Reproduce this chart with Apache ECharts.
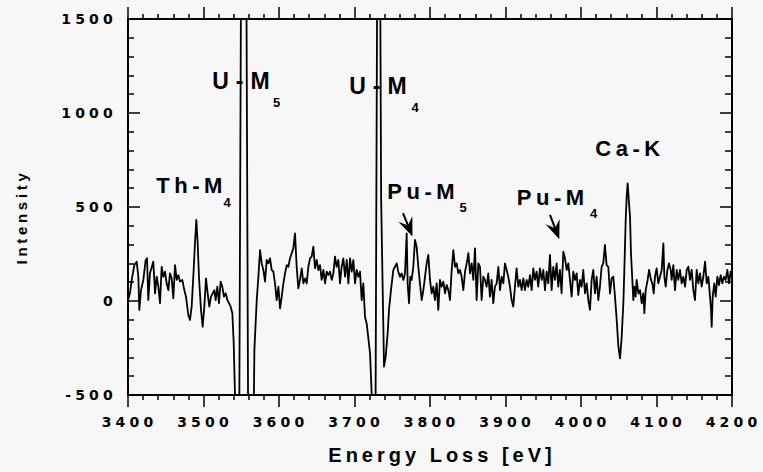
<!DOCTYPE html>
<html><head><meta charset="utf-8">
<script src="https://cdn.jsdelivr.net/npm/echarts@6.0.0/dist/echarts.min.js"></script>
<style>
html,body{margin:0;padding:0;background:#f7f7f7;}
#chart{width:763px;height:472px;}
#chart text[style*="14px"]{letter-spacing:4.2px;}
#chart text[style*="15px"]{letter-spacing:3.7px;}
#chart text[style*="20px"]{letter-spacing:4px;}
#chart text[style*="22px"]{letter-spacing:4.5px;}
#chart text[style*="23px"]{letter-spacing:7px;}
</style></head><body><div id="chart"></div>
<script>
// Energy axis (eV) and intensity readings
const energy = [
3400,3402.6,3404.9,3408.4,3411.5,3413.7,3415,3417.2,3420.3,3423.4,3425.2,3426.9,3429.1,3433.5,3435.8,3438,3440.2,3442.4,3444.6,3446.8,3449,3451.2,3453.4,3455.6,3457.8,3460,3462.3,3464.5,3466.7,3468.9,3471.9,3474.6,3476.8,3479.9,3482.1,3484.3,3486.5,3488.7,3490.5,3492.3,3494,3496.7,3498.9,3501.1,3503.3,3505.5,3507.7,3509.9,3512.1,3514.3,3516.1,3518.3,3520.5,3522.7,3524.9,3527.1,3529.4,3531.6,3533.8,3536,3538.2,3540,3541.7,
3543.5,3547,3550.5,3556,3559.5,3565.5,
3567.4,3570.5,3572.7,3574.9,3577.1,3579.3,3581.5,3583.7,3585.9,3588.1,3590.3,3592.5,3594.7,3596.9,3599.2,3601.4,3603.6,3605.8,3608,3610.2,3612.4,3614.6,3616.8,3619,3621.2,3623.4,3625.6,3627.8,3630.1,3632.3,3634.5,3636.7,3638.9,3641.1,3643.3,3645.5,3647.7,3649.9,3652.1,3654.3,3656.5,3658.8,3661,3663.2,3665.4,3667.6,3669.8,3672,3674.2,3676.4,3678.6,3680.8,3683,3685.2,3687.5,3689.7,3691.9,3694.1,3696.3,3698.5,3700.7,3702.9,3705.1,3707.3,3709.5,3711.7,3713.9,3716.1,3718.4,3720.6,
3722.7,3725,3727.5,3730.5,3733.5,3735.3,
3739.1,3741.3,3743.9,3745.7,3748.3,3751.4,3753.6,3755.8,3758,3760.3,3762.5,3764.7,3766.9,3769.1,3770.4,3772.2,3773.9,3775.7,3777.9,3780.1,3782.3,3784.5,3786.7,3789,3791.2,3793.4,3795.6,3797.8,3800,3802.2,3804.4,3806.6,3808.8,3811,3813.2,3815.4,3817.7,3819.9,3822.1,3824.3,3826.5,3828.7,3830.9,3833.1,3835.3,3837.5,3839.7,3841.9,3844.1,3846.4,3848.6,3850.8,3853,3855.2,3857.4,3859.6,3861.8,3864,3866.2,3868.4,3870.6,
3872.8,3875,3877.2,3879.4,3881.6,3883.8,3886,3888.3,3890.5,3892.7,3894.9,3897.1,3899.3,3901.5,3903.7,3905.9,3908.1,3910.3,3912.5,3914.7,3917,3919.2,3921.4,3923.6,3925.8,3928,3930.2,3932.4,3934.6,3936.8,3939,3941.2,3943.4,3945.6,3947.9,3950.1,3952.3,3954.5,3956.7,3958.9,3961.1,3963.3,3965.5,3967.7,3969.9,3972.1,3974.3,3976.6,3978.8,3981,3983.2,3985.4,3987.6,3989.8,3992,3994.2,3996.4,3998.6,4000.8,4003,4005.3,4007.5,4009.7,4011.9,4014.1,4016.3,4018.5,4020.7,4022.9,4025.1,4027.3,4029.5,4031.7,4033.9,4036.2,
4038.4,4040.6,4042.8,4045,4047.3,4049.5,4051.7,4053.9,4056.1,4057.4,4059.2,4060.5,4061.8,4063.6,4064.9,4066.2,4068,4069.3,4070.7,4072.4,4073.7,4076,4078.2,4080.4,4082.6,4083.9,4085.7,4088.3,4090.1,4092.7,4094.5,4096.3,4098,4100.2,4102.4,4104.6,4106.9,4109.1,4110.4,4112.2,4114.4,4116.6,4118.8,4120.1,4122.3,4124.5,4126.7,4128.9,4131.1,4133.3,4135.6,4137.8,4140,4142.2,4144.4,4146.6,4148.8,4151,4153.2,4155.4,4157.6,4159.8,4162,4164.3,4166.5,4168.7,4170.9,4172.2,4173.1,4174.4,4176.6,4178.4,4180.6,4182.8,4185,4187.2,4189.4,4191.6,4193.8,4196,4198.2,4200
];
const intensity = [
5,41,112,191,209,129,-48,58,112,218,227,5,147,209,41,129,76,-12,182,129,156,94,58,147,120,14,191,112,138,103,112,58,23,-74,-101,-30,129,307,431,307,129,-48,-137,-30,120,41,-30,23,41,58,5,76,-12,103,76,23,41,5,-12,-30,-65,-225,-500,
-1000,-1000,2500,2500,-1000,-1000,
-261,5,129,271,200,165,103,218,200,227,165,156,94,5,76,-39,23,94,147,191,182,227,254,280,360,182,67,112,174,94,120,94,182,227,236,289,174,218,165,191,112,165,94,156,138,156,112,147,236,182,218,94,182,227,129,218,94,227,156,218,94,165,129,156,5,94,-84,-119,-200,-280,
-491,-1000,-1000,2200,2200,537,
-349,-296,-172,-47,58,165,182,200,156,129,147,112,147,360,94,-12,129,112,182,325,289,182,94,5,58,129,200,245,112,41,76,5,94,-47,112,76,103,41,85,58,5,165,271,182,200,147,165,129,58,156,200,254,147,200,112,280,5,200,182,5,129,
112,76,147,23,112,-12,76,94,182,58,129,94,200,165,129,76,5,-30,76,174,76,112,58,120,58,112,76,138,58,174,112,156,76,174,112,165,58,156,94,245,58,182,112,200,76,165,41,262,227,165,200,112,23,156,112,147,32,112,76,165,41,94,5,-47,112,165,41,129,5,76,182,200,298,191,182,
40,120,129,23,-101,-243,-305,-190,-12,165,431,555,626,519,449,253,112,5,76,23,112,40,58,-12,40,-65,58,112,165,112,94,40,129,174,94,129,165,307,129,76,165,200,165,112,191,58,165,112,165,94,129,76,165,183,112,165,58,5,165,94,147,76,129,209,94,129,23,-47,-137,23,94,23,129,85,138,94,129,112,165,94,156,129
];
// Axis ranges / tick steps
const xRange = [3400, 4200], xStep = 100;
const yRange = [-500, 1500], yStep = 500;
// Peak labels (anchor in data units: [energy, intensity])
const peakLabels = [
  {text:'Th-M', sub:'4', at:[3437.5, 617], subAt:[3526.5, 524], big:false},
  {text:'U-M',  sub:'5', at:[3511.5, 1168], subAt:[3592, 1058], big:true},
  {text:'U-M',  sub:'4', at:[3693, 1144], subAt:[3775.5, 1031], big:true},
  {text:'Pu-M', sub:'5', at:[3743.5, 585], subAt:[3839, 500], big:false},
  {text:'Pu-M', sub:'4', at:[3915, 553], subAt:[4012, 463], big:false},
  {text:'Ca-K', sub:'',  at:[4019, 811], big:false}
];
// Arrows: tail and tip in data units
const arrows = [
  {tail:[3764.2, 468], tip:[3776.8, 343]},
  {tail:[3958.9, 458], tip:[3971.3, 328]}
];

const n = Math.min(energy.length, intensity.length);
const seriesData = [];
for (let i = 0; i < n; i++) seriesData.push([energy[i], intensity[i]]);

const chart = echarts.init(document.getElementById('chart'), null, {renderer:'svg'});
const black = '#000';
const tickFont = {color:black, fontFamily:'DejaVu Sans', fontWeight:'bold', fontSize:14, formatter: v => String(v)};
function xAx(pos, show){
  return {type:'value', position:pos, min:xRange[0], max:xRange[1], interval:xStep,
    axisLine:{show:true, onZero:false, lineStyle:{color:black, width:2}},
    axisTick:{show:true, inside:false, length:12, lineStyle:{color:black, width:1.5}},
    minorTick:{show:true, splitNumber:5, length:5, lineStyle:{color:black, width:1.5}},
    splitLine:{show:false}, minorSplitLine:{show:false},
    axisLabel: show ? Object.assign({margin:20, padding:[0,0,0,3]}, tickFont) : {show:false}};
}
function yAx(pos, show, minorLen){
  return {type:'value', position:pos, min:yRange[0], max:yRange[1], interval:yStep,
    axisLine:{show:true, onZero:false, lineStyle:{color:black, width:2}},
    axisTick:{show:true, inside:true, length:12, lineStyle:{color:black, width:1.5}},
    minorTick:{show:true, splitNumber:5, length:minorLen, lineStyle:{color:black, width:1.5}},
    splitLine:{show:false}, minorSplitLine:{show:false},
    axisLabel: show ? Object.assign({margin:11, padding:[7,0,0,0]}, tickFont) : {show:false}};
}
chart.setOption({
  animation:false,
  backgroundColor:'#f7f7f7',
  grid:{left:128, right:31, top:19, bottom:77, containLabel:false, outerBoundsMode:'none'},
  xAxis:[xAx('bottom', true), xAx('top', false)],
  yAxis:[yAx('left', true, 6), yAx('right', false, 7)],
  series:[{type:'line', xAxisIndex:0, yAxisIndex:0, data:seriesData, showSymbol:false, symbol:'none',
    clip:true, lineStyle:{color:black, width:1.8, join:'round'}}]
});

const P = p => chart.convertToPixel({xAxisIndex:0, yAxisIndex:0}, p);
const fam = 'Liberation Sans, Arial, Helvetica, sans-serif';
function txt(x, y, text, size, rot){
  return {type:'text', x:x, y:y, rotation:rot||0, z:100, silent:true,
    style:{text:text, fill:black, fontSize:size, fontWeight:'bold', fontFamily:fam,
      align:'left', verticalAlign:'middle', textAlign:'left', textVerticalAlign:'middle'}};
}
const g = [];
peakLabels.forEach(l => {
  const a = P(l.at);
  g.push(txt(a[0], a[1], l.text, l.big ? 23 : 22));
  if (l.sub) { const s = P(l.subAt); g.push(txt(s[0], s[1], l.sub, 13)); }
});
arrows.forEach(ar => {
  const t = P(ar.tail), h = P(ar.tip);
  const dx = h[0]-t[0], dy = h[1]-t[1], L = Math.hypot(dx, dy);
  const ux = dx/L, uy = dy/L, px = -uy, py = ux;
  const back = 19, notch = 12, half = 7.5;
  const b1 = [h[0]-ux*back+px*half, h[1]-uy*back+py*half];
  const b2 = [h[0]-ux*back-px*half, h[1]-uy*back-py*half];
  const nt = [h[0]-ux*notch, h[1]-uy*notch];
  g.push({type:'line', z:100, silent:true, shape:{x1:t[0], y1:t[1], x2:nt[0], y2:nt[1]}, style:{stroke:black, lineWidth:2}});
  g.push({type:'polygon', z:100, silent:true, shape:{points:[h, b1, nt, b2]}, style:{fill:black}});
});
// axis titles
const yTitle = txt(21, 217, 'Intensity', 15, Math.PI/2);
yTitle.style.align = 'center'; yTitle.style.textAlign = 'center';
g.push(yTitle);
const title = txt(442, 455, 'Energy Loss [eV]', 20);
title.style.align = 'center'; title.style.textAlign = 'center';
g.push(title);
chart.setOption({graphic:{elements:g}});
</script></body></html>
